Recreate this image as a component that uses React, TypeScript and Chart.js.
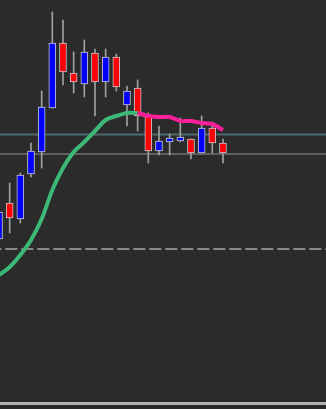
import React, { useEffect, useRef } from "react";
import { Chart, registerables } from "chart.js";

Chart.register(...registerables);

// Candle index (bar number) and OHLC values (price units)
const bars = [0, 1, 2, 3, 4, 5, 6, 7, 8, 9, 10, 11, 12, 13, 14, 15, 16, 17, 18, 19, 20, 21];
const opens = [116.1, 119.7, 118.1, 122.6, 124.8, 129.2, 135.7, 132.7, 131.6, 134.7, 131.8, 134.3, 129.5, 131.2, 128.4, 124.9, 125.8, 125.9, 126.1, 124.7, 127.2, 125.7];
const closes = [118.8, 118.2, 122.5, 124.9, 129.3, 135.7, 132.8, 131.8, 134.8, 131.8, 134.3, 131.3, 130.9, 128.4, 124.9, 125.9, 126.2, 126.3, 124.7, 127.2, 125.7, 124.7];
const highs = [119.3, 121.7, 122.7, 125.7, 130.9, 138.8, 138.0, 134.8, 136.0, 135.1, 135.1, 134.6, 131.4, 132.0, 128.7, 127.4, 126.6, 128.2, 126.1, 128.4, 127.8, 126.1];
const lows = [115.8, 116.7, 117.7, 122.3, 123.2, 129.2, 131.5, 130.7, 130.3, 128.4, 130.3, 130.9, 127.4, 126.9, 123.7, 124.5, 124.5, 125.8, 124.1, 124.7, 124.7, 123.7];

// Moving average: rising part (green) and falling part (pink)
const maGreenBars = [0, 1, 2, 3, 4, 5, 6, 7, 8, 9, 10, 11, 12, 13];
const maGreen = [112.5, 113.3, 114.5, 116.0, 118.1, 121.0, 123.2, 124.8, 125.8, 126.9, 128.0, 128.4, 128.7, 128.7];
const maPinkBars = [13, 14, 15, 16, 17, 18, 19, 20, 21];
const maPink = [128.7, 128.4, 128.3, 128.3, 127.9, 127.9, 127.7, 127.6, 127.0];

// Horizontal levels
const levelTeal = 126.55;
const levelGray = 124.6;
const levelDashed = 115.1;
const levelBottom = 99.65;

const X_MIN = 0.094;
const X_MAX = 30.66;
const Y_MIN = 99.1;
const Y_MAX = 140;

export default function App() {
  const ref = useRef<HTMLCanvasElement | null>(null);

  useEffect(() => {
    if (!ref.current) return;
    const up = bars.map((_, i) => closes[i] >= opens[i]);
    const hline = (v: number) => [
      { x: X_MIN - 1, y: v },
      { x: X_MAX + 1, y: v },
    ];
    const chart = new Chart(ref.current, {
      type: "bar",
      data: {
        datasets: [
          {
            type: "line",
            data: hline(levelTeal),
            borderColor: "#4d6b6b",
            borderWidth: 2,
            pointRadius: 0,
            order: 5,
          } as any,
          {
            type: "line",
            data: hline(levelGray),
            borderColor: "#5f5f5f",
            borderWidth: 2,
            pointRadius: 0,
            order: 5,
          } as any,
          {
            type: "line",
            data: hline(levelDashed),
            borderColor: "#8a8a8a",
            borderWidth: 2,
            borderDash: [12, 4],
            pointRadius: 0,
            order: 5,
          } as any,
          {
            type: "line",
            data: hline(levelBottom),
            borderColor: "#b2b2b2",
            borderWidth: 3,
            pointRadius: 0,
            order: 5,
          } as any,
          {
            type: "bar",
            data: bars.map((b, i) => ({ x: b, y: [lows[i], highs[i]] })),
            backgroundColor: "#a0a0a0",
            borderWidth: 0,
            barThickness: 1,
            grouped: false,
            order: 3,
          } as any,
          {
            type: "bar",
            data: bars.map((b, i) => ({ x: b, y: [opens[i], closes[i]] })),
            backgroundColor: up.map((u) => (u ? "#0000ff" : "#ff0000")),
            borderColor: "#c8c8d4",
            borderWidth: 1,
            borderSkipped: false,
            barThickness: 7,
            grouped: false,
            order: 2,
          } as any,
          {
            type: "line",
            data: maGreenBars.map((b, i) => ({ x: b, y: maGreen[i] })),
            borderColor: "#3cb878",
            borderWidth: 4,
            pointRadius: 0,
            tension: 0.3,
            order: 1,
          } as any,
          {
            type: "line",
            data: maPinkBars.map((b, i) => ({ x: b, y: maPink[i] })),
            borderColor: "#ff1f9a",
            borderWidth: 4,
            pointRadius: 0,
            tension: 0.2,
            order: 0,
          } as any,
        ],
      },
      options: {
        responsive: false,
        animation: false,
        layout: { padding: 0, autoPadding: false },
        plugins: { legend: { display: false }, tooltip: { enabled: false } },
        scales: {
          x: { type: "linear", min: X_MIN, max: X_MAX, display: false, offset: false },
          y: { type: "linear", min: Y_MIN, max: Y_MAX, display: false, offset: false },
        },
      },
    } as any);
    return () => chart.destroy();
  }, []);

  return (
    <div
      style={{
        position: "fixed",
        left: 0,
        top: 0,
        width: 326,
        height: 409,
        background: "#2b2b2b",
        overflow: "hidden",
      }}
    >
      <canvas ref={ref} width={326} height={409} style={{ display: "block" }} />
    </div>
  );
}
